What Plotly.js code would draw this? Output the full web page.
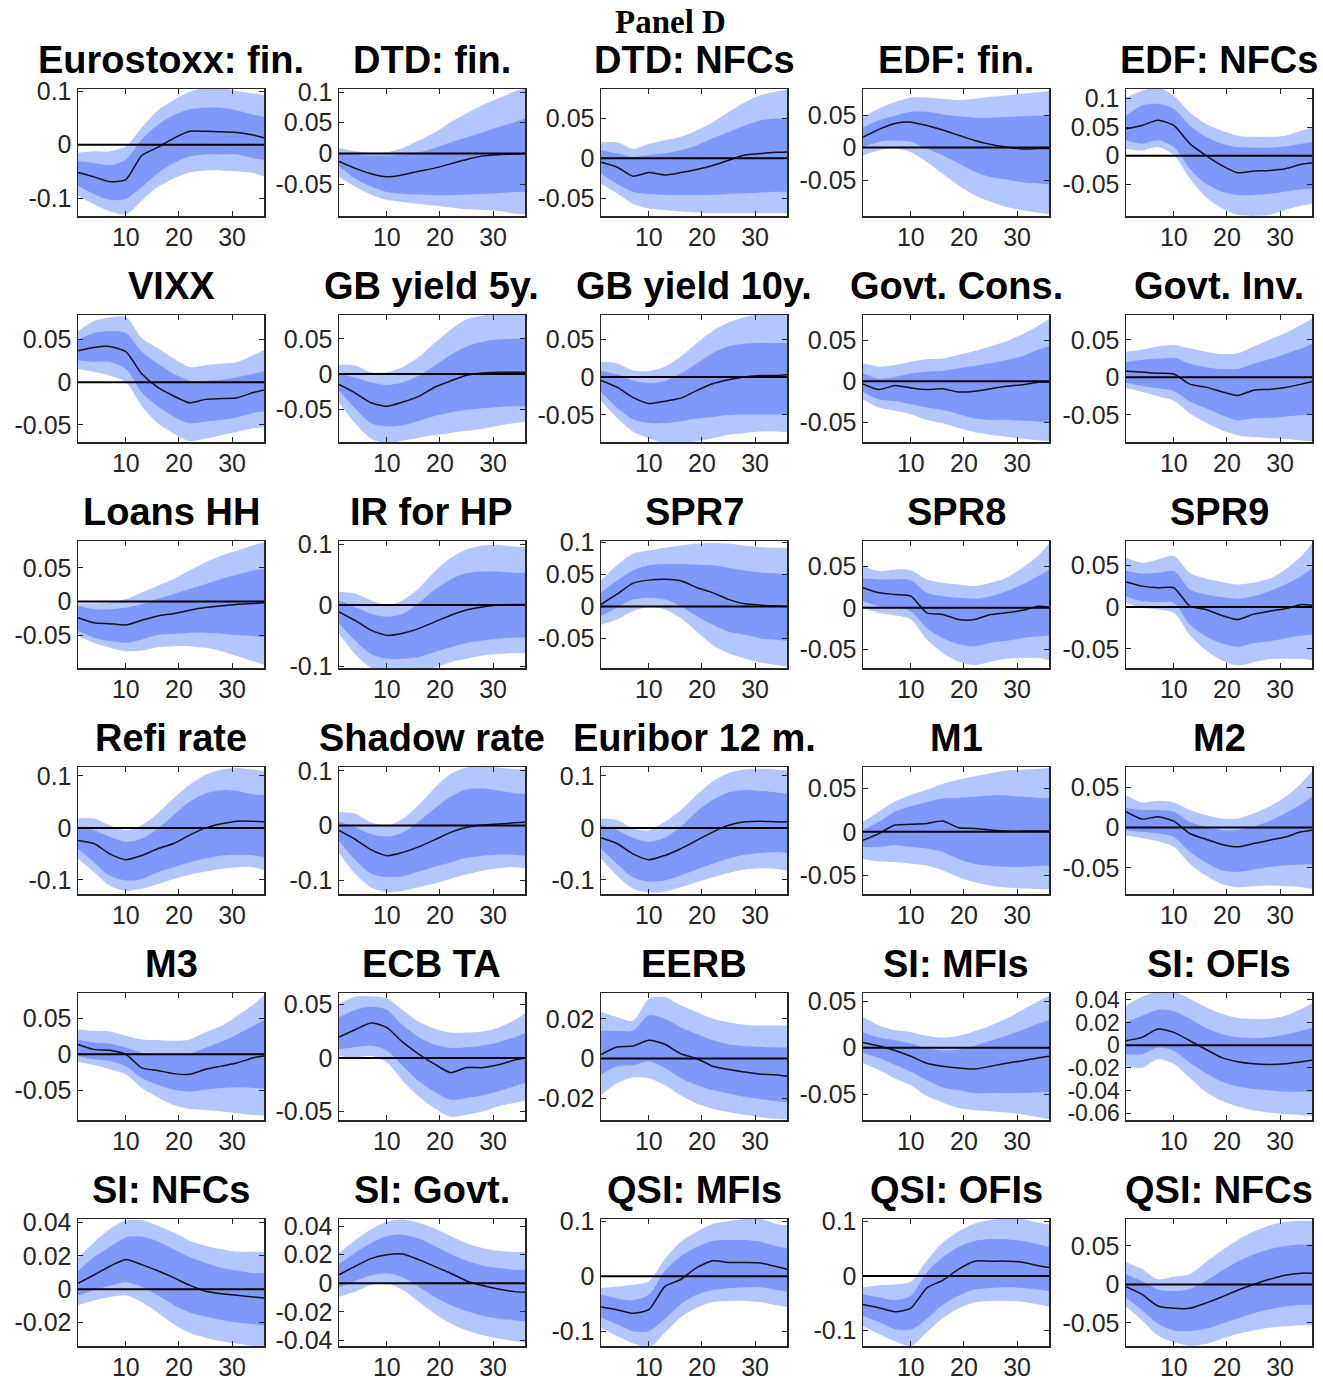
<!DOCTYPE html>
<html><head><meta charset="utf-8">
<script src="https://cdn.plot.ly/plotly-3.0.1.min.js"></script>
<style>html,body{margin:0;padding:0;background:#fff}</style>
</head><body><div id="chart" style="width:1323px;height:1379px"></div>
<script>
const horizons = [1,4,7,10,13,16,19,22,25,28,31,34,36];
const xTicks = [10,20,30];
const titles = ["Eurostoxx: fin.","DTD: fin.","DTD: NFCs","EDF: fin.","EDF: NFCs",
"VIXX","GB yield 5y.","GB yield 10y.","Govt. Cons.","Govt. Inv.",
"Loans HH","IR for HP","SPR7","SPR8","SPR9",
"Refi rate","Shadow rate","Euribor 12 m.","M1","M2",
"M3","ECB TA","EERB","SI: MFIs","SI: OFIs",
"SI: NFCs","SI: Govt.","QSI: MFIs","QSI: OFIs","QSI: NFCs"];
const yTicks = [
[-0.1,0,0.1],[-0.05,0,0.05,0.1],[-0.05,0,0.05],[-0.05,0,0.05],[-0.05,0,0.05,0.1],
[-0.05,0,0.05],[-0.05,0,0.05],[-0.05,0,0.05],[-0.05,0,0.05],[-0.05,0,0.05],
[-0.05,0,0.05],[-0.1,0,0.1],[-0.05,0,0.05,0.1],[-0.05,0,0.05],[-0.05,0,0.05],
[-0.1,0,0.1],[-0.1,0,0.1],[-0.1,0,0.1],[-0.05,0,0.05],[-0.05,0,0.05],
[-0.05,0,0.05],[-0.05,0,0.05],[-0.02,0,0.02],[-0.05,0,0.05],[-0.06,-0.04,-0.02,0,0.02,0.04],
[-0.02,0,0.02,0.04],[-0.04,-0.02,0,0.02,0.04],[-0.1,0,0.1],[-0.1,0,0.1],[-0.05,0,0.05]];
const yRanges = [
[-0.133,0.104],[-0.102,0.105],[-0.0725,0.087],[-0.105,0.09],[-0.106,0.117],
[-0.07,0.079],[-0.097,0.084],[-0.086,0.082],[-0.074,0.081],[-0.086,0.083],
[-0.099,0.09],[-0.103,0.105],[-0.096,0.102],[-0.072,0.08],[-0.073,0.079],
[-0.127,0.117],[-0.125,0.107],[-0.127,0.117],[-0.071,0.074],[-0.0825,0.075],
[-0.092,0.086],[-0.058,0.061],[-0.031,0.033],[-0.078,0.059],[-0.066,0.046],
[-0.034,0.042],[-0.044,0.045],[-0.127,0.104],[-0.128,0.104],[-0.08,0.085]];

const median = [
[-0.052,-0.060,-0.069,-0.065,-0.020,-0.005,0.012,0.025,0.025,0.024,0.023,0.018,0.013],
[-0.013,-0.024,-0.033,-0.038,-0.035,-0.029,-0.024,-0.017,-0.010,-0.004,-0.002,-0.001,0],
[-0.005,-0.011,-0.0225,-0.018,-0.021,-0.018,-0.014,-0.009,-0.0025,0.004,0.006,0.0075,0.008],
[0.016,0.028,0.037,0.039,0.034,0.027,0.019,0.011,0.005,0.001,-0.002,-0.0015,-0.0015],
[0.047,0.053,0.062,0.053,0.021,0.0006,-0.017,-0.030,-0.027,-0.026,-0.023,-0.015,-0.013],
[0.037,0.041,0.042,0.036,0.010,-0.006,-0.016,-0.024,-0.020,-0.019,-0.018,-0.012,-0.009],
[-0.015,-0.027,-0.041,-0.046,-0.040,-0.032,-0.019,-0.010,-0.002,0.0015,0.0025,0.0025,0.0025],
[-0.0045,-0.0135,-0.027,-0.035,-0.032,-0.028,-0.018,-0.009,-0.0036,0,0.002,0.002,0.003],
[-0.003,-0.010,-0.005,-0.008,-0.010,-0.009,-0.013,-0.012,-0.009,-0.006,-0.004,-0.001,-0.001],
[0.008,0.007,0.0055,0.0045,-0.009,-0.013,-0.019,-0.024,-0.017,-0.016,-0.0136,-0.009,-0.0055],
[-0.024,-0.0315,-0.033,-0.035,-0.028,-0.0215,-0.018,-0.013,-0.009,-0.0065,-0.004,-0.003,-0.002],
[-0.011,-0.025,-0.041,-0.0495,-0.046,-0.0385,-0.0275,-0.0165,-0.008,-0.003,0,0.001,0.001],
[0.003,0.019,0.036,0.041,0.0425,0.040,0.0295,0.0215,0.011,0.004,0.002,0.0005,0],
[0.024,0.018,0.016,0.014,-0.006,-0.008,-0.014,-0.014,-0.008,-0.006,-0.003,0.002,0.001],
[0.030,0.025,0.023,0.023,0.001,-0.003,-0.010,-0.015,-0.0085,-0.005,-0.002,0.003,0.002],
[-0.024,-0.030,-0.050,-0.061,-0.053,-0.040,-0.030,-0.014,0,0.008,0.013,0.013,0.012],
[-0.009,-0.025,-0.044,-0.055,-0.049,-0.039,-0.026,-0.0125,-0.003,0.001,0.003,0.005,0.006],
[-0.019,-0.030,-0.050,-0.061,-0.053,-0.040,-0.024,-0.008,0.005,0.0116,0.013,0.0116,0.0116],
[-0.0096,-0.002,0.0077,0.0085,0.0096,0.0123,0.0046,0.0038,0.002,0.0008,0.0008,0.001,0.001],
[0.0196,0.0104,0.0133,0.0079,-0.0075,-0.0146,-0.021,-0.024,-0.020,-0.0158,-0.0117,-0.0054,-0.0033],
[0.014,0.007,0.0057,0,-0.019,-0.0226,-0.027,-0.028,-0.021,-0.0165,-0.0118,-0.0047,-0.0024],
[0.0196,0.0266,0.033,0.0285,0.0149,0.0038,-0.0057,-0.0136,-0.0089,-0.0089,-0.0063,-0.0019,0],
[0.002,0.0058,0.0063,0.0092,0.0072,0.0024,0,-0.0039,-0.0056,-0.0068,-0.0079,-0.0082,-0.009],
[0.0056,0.0019,-0.003,-0.0093,-0.0167,-0.020,-0.022,-0.023,-0.020,-0.0167,-0.014,-0.011,-0.0093],
[0.0039,0.0069,0.0143,0.0113,0.0039,-0.0036,-0.011,-0.0146,-0.0164,-0.017,-0.0164,-0.0146,-0.0134],
[0.0035,0.0085,0.0137,0.0178,0.0147,0.011,0.0069,0.0024,-0.0012,-0.0027,-0.0037,-0.0047,-0.0053],
[0.0059,0.0118,0.0172,0.020,0.0205,0.0165,0.0118,0.007,0.0016,-0.0016,-0.004,-0.0059,-0.0064],
[-0.056,-0.061,-0.0675,-0.061,-0.019,-0.006,0.0156,0.028,0.025,0.025,0.024,0.0175,0.0125],
[-0.052,-0.058,-0.0656,-0.059,-0.022,-0.008,0.0125,0.027,0.027,0.027,0.025,0.0188,0.0156],
[-0.003,-0.013,-0.028,-0.031,-0.031,-0.0243,-0.0164,-0.0075,0,0.0066,0.012,0.0146,0.0146]];

const outerUpper = [
[-0.015,-0.012,-0.012,-0.003,0.032,0.064,0.083,0.099,0.106,0.106,0.1,0.096,0.093],
[0.009,0.004,0.001,0.002,0.009,0.021,0.034,0.051,0.065,0.079,0.090,0.101,0.106],
[0.020,0.020,0.012,0.018,0.0225,0.027,0.035,0.045,0.058,0.070,0.079,0.084,0.086],
[0.047,0.060,0.070,0.077,0.077,0.075,0.073,0.075,0.078,0.080,0.083,0.085,0.087],
[0.102,0.114,0.12,0.105,0.076,0.056,0.044,0.035,0.033,0.033,0.035,0.044,0.049],
[0.060,0.072,0.076,0.077,0.052,0.040,0.028,0.018,0.020,0.022,0.024,0.032,0.038],
[0.013,0.012,0.0025,0.0025,0.010,0.024,0.044,0.063,0.078,0.083,0.086,0.086,0.086],
[0.020,0.018,0.009,0.008,0.0135,0.027,0.045,0.061,0.072,0.079,0.083,0.083,0.083],
[0.022,0.018,0.020,0.024,0.027,0.028,0.0325,0.037,0.043,0.049,0.0575,0.068,0.076],
[0.034,0.037,0.041,0.043,0.0386,0.034,0.031,0.032,0.041,0.050,0.059,0.070,0.078],
[-0.003,-0.003,-0.0015,0.0035,0.0135,0.0235,0.0335,0.046,0.0585,0.0685,0.076,0.0835,0.0885],
[0.022,0.019,0.008,0,0.008,0.0275,0.055,0.077,0.091,0.0975,0.099,0.096,0.095],
[0.040,0.064,0.082,0.087,0.0915,0.095,0.098,0.099,0.098,0.095,0.0925,0.0915,0.0915],
[0.050,0.044,0.046,0.045,0.034,0.030,0.028,0.026,0.030,0.036,0.048,0.0625,0.0766],
[0.059,0.053,0.057,0.061,0.041,0.034,0.030,0.027,0.029,0.034,0.045,0.061,0.076],
[0.018,0.018,0.005,-0.0045,0.005,0.028,0.057,0.083,0.102,0.112,0.115,0.112,0.110],
[0.025,0.022,0.006,0,0.0125,0.0375,0.069,0.094,0.106,0.108,0.106,0.103,0.103],
[0.018,0.015,-0.001,-0.0045,0.0116,0.034,0.063,0.089,0.105,0.112,0.1135,0.112,0.110],
[0.0115,0.023,0.0346,0.042,0.048,0.0546,0.0596,0.0635,0.067,0.070,0.071,0.072,0.073],
[0.040,0.031,0.033,0.031,0.0217,0.0154,0.011,0.011,0.0175,0.026,0.038,0.055,0.0696],
[0.035,0.033,0.032,0.026,0.021,0.020,0.019,0.021,0.031,0.040,0.054,0.070,0.0825],
[0.051,0.0576,0.058,0.056,0.045,0.034,0.0275,0.024,0.024,0.025,0.0285,0.0354,0.042],
[0.0234,0.0209,0.019,0.030,0.031,0.0268,0.0234,0.020,0.0183,0.017,0.0166,0.0166,0.0166],
[0.033,0.024,0.019,0.0167,0.013,0.011,0.013,0.0178,0.024,0.0315,0.0407,0.050,0.056],
[0.035,0.0427,0.047,0.047,0.041,0.0337,0.0278,0.024,0.0233,0.0233,0.026,0.032,0.0367],
[0.0188,0.028,0.036,0.0412,0.0412,0.038,0.034,0.029,0.026,0.0239,0.0224,0.0224,0.0224],
[0.0212,0.030,0.0376,0.043,0.0447,0.0424,0.0384,0.033,0.028,0.0247,0.0228,0.0219,0.0219],
[-0.022,-0.019,-0.0156,-0.009,0.031,0.0625,0.081,0.095,0.100,0.104,0.104,0.095,0.0925],
[-0.0206,-0.017,-0.0156,-0.0106,0.028,0.0606,0.081,0.0956,0.102,0.105,0.104,0.097,0.094],
[0.0288,0.020,0.0066,0.0102,0.0133,0.0288,0.0442,0.0575,0.0686,0.0765,0.081,0.0827,0.0827]];

const innerUpper = [
[-0.031,-0.034,-0.038,-0.028,0.010,0.037,0.055,0.066,0.069,0.069,0.064,0.056,0.052],
[0.001,-0.002,-0.004,-0.004,-0.002,0.002,0.009,0.018,0.026,0.034,0.043,0.051,0.057],
[0.010,0.006,0.002,0.004,0.006,0.010,0.016,0.025,0.033,0.041,0.0475,0.050,0.050],
[0.031,0.042,0.049,0.055,0.055,0.051,0.048,0.046,0.046,0.047,0.048,0.049,0.049],
[0.070,0.088,0.091,0.082,0.053,0.033,0.021,0.015,0.014,0.014,0.016,0.021,0.024],
[0.050,0.058,0.060,0.058,0.036,0.022,0.010,0.002,0.002,0.003,0.006,0.010,0.013],
[0,-0.005,-0.012,-0.016,-0.012,-0.0025,0.012,0.027,0.039,0.046,0.049,0.050,0.050],
[0.008,0.0036,-0.0045,-0.008,-0.0054,0.0045,0.018,0.0315,0.0405,0.044,0.045,0.045,0.045],
[0.0096,0.0033,0.0054,0.0096,0.0117,0.013,0.016,0.019,0.022,0.026,0.031,0.039,0.043],
[0.020,0.023,0.025,0.026,0.018,0.0136,0.011,0.011,0.018,0.024,0.031,0.0386,0.0445],
[-0.0065,-0.0115,-0.0115,-0.009,-0.004,0.0035,0.011,0.0185,0.026,0.0335,0.040,0.046,0.0485],
[0.008,-0.003,-0.014,-0.019,-0.014,0.003,0.025,0.042,0.052,0.055,0.055,0.053,0.053],
[0.0215,0.040,0.056,0.064,0.066,0.066,0.065,0.064,0.060,0.056,0.053,0.0515,0.0505],
[0.035,0.034,0.034,0.033,0.018,0.014,0.012,0.011,0.014,0.020,0.028,0.038,0.046],
[0.043,0.040,0.041,0.043,0.021,0.015,0.012,0.010,0.013,0.019,0.027,0.037,0.046],
[0.002,-0.0045,-0.017,-0.027,-0.021,-0.001,0.0245,0.050,0.066,0.073,0.071,0.0645,0.063],
[0.0075,-0.003,-0.0156,-0.020,-0.0125,0.0075,0.031,0.053,0.066,0.0675,0.064,0.059,0.0575],
[0.005,-0.0045,-0.019,-0.027,-0.019,0.002,0.031,0.0535,0.068,0.073,0.071,0.068,0.066],
[0.002,0.0115,0.023,0.029,0.034,0.038,0.039,0.040,0.0415,0.0415,0.040,0.039,0.0385],
[0.024,0.0217,0.0217,0.0196,0.007,0.0008,-0.003,-0.003,0.0008,0.0079,0.0175,0.029,0.038],
[0.021,0.0165,0.015,0.0094,0.0024,0,-0.001,0.001,0.0094,0.018,0.028,0.040,0.048],
[0.038,0.045,0.048,0.045,0.0307,0.0196,0.0127,0.0095,0.0101,0.0117,0.0149,0.0196,0.0234],
[0.014,0.014,0.014,0.0217,0.020,0.0157,0.0123,0.0092,0.0072,0.0063,0.0058,0.0055,0.0055],
[0.0167,0.011,0.0081,0.0044,-0.0007,-0.003,-0.0019,0.0019,0.0074,0.013,0.019,0.026,0.0296],
[0.020,0.026,0.031,0.030,0.0233,0.0152,0.0099,0.0069,0.0063,0.0069,0.0093,0.0128,0.0152],
[0.0106,0.0192,0.0253,0.031,0.0314,0.0286,0.0239,0.0192,0.0157,0.0127,0.011,0.0096,0.0096],
[0.0134,0.0212,0.028,0.033,0.034,0.0313,0.0259,0.0205,0.0158,0.0125,0.0106,0.0094,0.0094],
[-0.034,-0.0406,-0.044,-0.034,0.0094,0.036,0.053,0.064,0.0656,0.0656,0.0625,0.055,0.051],
[-0.034,-0.039,-0.044,-0.036,0.006,0.034,0.053,0.064,0.067,0.067,0.064,0.058,0.053],
[0.0133,0.0044,-0.0066,-0.0088,-0.0058,0.0044,0.0177,0.0296,0.0385,0.0456,0.050,0.0518,0.0518]];

const innerLower = [
[-0.076,-0.092,-0.103,-0.101,-0.079,-0.053,-0.034,-0.022,-0.018,-0.018,-0.018,-0.025,-0.028],
[-0.021,-0.041,-0.054,-0.063,-0.066,-0.067,-0.068,-0.068,-0.067,-0.066,-0.065,-0.063,-0.063],
[-0.019,-0.032,-0.042,-0.045,-0.046,-0.046,-0.046,-0.046,-0.045,-0.044,-0.043,-0.042,-0.042],
[0.001,0.009,0.011,0.009,-0.0015,-0.012,-0.024,-0.037,-0.045,-0.049,-0.053,-0.055,-0.056],
[0.027,0.021,0.027,0.015,-0.023,-0.049,-0.063,-0.069,-0.069,-0.067,-0.063,-0.059,-0.058],
[0.026,0.024,0.024,0.016,-0.012,-0.028,-0.040,-0.048,-0.046,-0.044,-0.041,-0.036,-0.034],
[-0.024,-0.049,-0.070,-0.075,-0.073,-0.067,-0.060,-0.055,-0.051,-0.049,-0.047,-0.046,-0.046],
[-0.020,-0.0405,-0.056,-0.061,-0.061,-0.0585,-0.055,-0.053,-0.050,-0.0495,-0.0495,-0.0495,-0.0495],
[-0.013,-0.022,-0.024,-0.028,-0.032,-0.035,-0.040,-0.045,-0.047,-0.047,-0.048,-0.049,-0.050],
[-0.007,-0.011,-0.0145,-0.018,-0.032,-0.041,-0.050,-0.057,-0.0545,-0.054,-0.052,-0.050,-0.050],
[-0.044,-0.054,-0.059,-0.0615,-0.0565,-0.050,-0.048,-0.0465,-0.0465,-0.048,-0.050,-0.0515,-0.053],
[-0.030,-0.058,-0.080,-0.088,-0.088,-0.085,-0.077,-0.069,-0.062,-0.058,-0.055,-0.053,-0.053],
[-0.015,-0.002,0.011,0.0137,0.011,0.0005,-0.015,-0.0285,-0.039,-0.044,-0.0495,-0.052,-0.0535],
[0.008,0.002,0,-0.004,-0.024,-0.036,-0.0435,-0.046,-0.042,-0.0395,-0.036,-0.034,-0.033],
[0.013,0.007,0.006,0.005,-0.021,-0.035,-0.0435,-0.0476,-0.0435,-0.041,-0.0375,-0.034,-0.033],
[-0.040,-0.066,-0.092,-0.101,-0.098,-0.085,-0.0755,-0.066,-0.059,-0.053,-0.0516,-0.053,-0.056],
[-0.028,-0.062,-0.0875,-0.094,-0.0925,-0.084,-0.075,-0.0675,-0.059,-0.055,-0.053,-0.053,-0.055],
[-0.040,-0.069,-0.095,-0.103,-0.101,-0.0915,-0.080,-0.069,-0.059,-0.0516,-0.048,-0.0465,-0.048],
[-0.0173,-0.0173,-0.0154,-0.0173,-0.019,-0.023,-0.031,-0.0365,-0.039,-0.040,-0.040,-0.039,-0.0385],
[-0.003,-0.0054,-0.0075,-0.0117,-0.030,-0.043,-0.053,-0.055,-0.052,-0.049,-0.047,-0.046,-0.046],
[-0.0024,-0.007,-0.0094,-0.0165,-0.033,-0.0425,-0.0495,-0.052,-0.0495,-0.047,-0.046,-0.047,-0.048],
[0.0085,0.0101,0.0117,0.007,-0.0073,-0.0215,-0.0316,-0.039,-0.0373,-0.0348,-0.031,-0.0263,-0.023],
[-0.0082,-0.0039,-0.0034,-0.0014,-0.0048,-0.0099,-0.0133,-0.0159,-0.0176,-0.0193,-0.0205,-0.0215,-0.0219],
[-0.0056,-0.011,-0.0185,-0.026,-0.035,-0.0426,-0.046,-0.049,-0.049,-0.049,-0.049,-0.048,-0.048],
[-0.008,-0.008,-0.0021,-0.005,-0.0155,-0.0245,-0.032,-0.0364,-0.0385,-0.040,-0.041,-0.041,-0.041],
[-0.0037,-0.0006,0.002,0.0041,0.0014,-0.0037,-0.0094,-0.0139,-0.0163,-0.0184,-0.020,-0.021,-0.0216],
[-0.003,0.0016,0.0054,0.007,0.004,-0.0024,-0.0094,-0.0153,-0.0195,-0.0228,-0.0247,-0.0259,-0.0266],
[-0.075,-0.0875,-0.100,-0.100,-0.078,-0.051,-0.034,-0.025,-0.022,-0.020,-0.020,-0.025,-0.028],
[-0.073,-0.084,-0.097,-0.098,-0.078,-0.053,-0.036,-0.025,-0.022,-0.0206,-0.022,-0.025,-0.028],
[-0.0177,-0.0332,-0.051,-0.0597,-0.0606,-0.0575,-0.051,-0.0442,-0.0376,-0.0323,-0.0288,-0.0265,-0.0265]];

const outerLower = [
[-0.095,-0.111,-0.124,-0.130,-0.104,-0.079,-0.063,-0.052,-0.048,-0.048,-0.050,-0.053,-0.059],
[-0.038,-0.054,-0.067,-0.076,-0.079,-0.082,-0.085,-0.088,-0.091,-0.092,-0.094,-0.098,-0.099],
[-0.032,-0.044,-0.057,-0.063,-0.065,-0.067,-0.068,-0.069,-0.069,-0.069,-0.069,-0.069,-0.069],
[-0.012,-0.004,-0.0015,-0.007,-0.022,-0.040,-0.058,-0.073,-0.083,-0.091,-0.096,-0.100,-0.102],
[0.012,0.009,0.015,0.0006,-0.040,-0.072,-0.092,-0.104,-0.106,-0.104,-0.095,-0.088,-0.085],
[0.016,0.012,0.008,0,-0.028,-0.048,-0.060,-0.069,-0.066,-0.062,-0.058,-0.054,-0.052],
[-0.041,-0.070,-0.092,-0.099,-0.095,-0.091,-0.087,-0.084,-0.081,-0.078,-0.074,-0.070,-0.068],
[-0.0315,-0.054,-0.072,-0.081,-0.088,-0.088,-0.085,-0.081,-0.0765,-0.074,-0.072,-0.072,-0.073],
[-0.022,-0.032,-0.036,-0.040,-0.047,-0.051,-0.057,-0.062,-0.065,-0.0675,-0.070,-0.072,-0.073],
[-0.0145,-0.019,-0.025,-0.031,-0.048,-0.060,-0.070,-0.077,-0.0795,-0.081,-0.082,-0.084,-0.085],
[-0.0515,-0.0615,-0.069,-0.074,-0.073,-0.068,-0.0665,-0.0665,-0.069,-0.074,-0.0815,-0.089,-0.094],
[-0.047,-0.080,-0.102,-0.106,-0.106,-0.105,-0.102,-0.0935,-0.088,-0.0825,-0.080,-0.079,-0.079],
[-0.0285,-0.0205,-0.0075,-0.001,-0.0047,-0.018,-0.039,-0.060,-0.073,-0.081,-0.0875,-0.0915,-0.094],
[0,-0.006,-0.009,-0.014,-0.038,-0.054,-0.0645,-0.0685,-0.0645,-0.061,-0.060,-0.060,-0.0625],
[0.005,-0.001,-0.003,-0.007,-0.0335,-0.0516,-0.064,-0.070,-0.066,-0.0625,-0.062,-0.062,-0.064],
[-0.059,-0.085,-0.111,-0.121,-0.117,-0.108,-0.098,-0.090,-0.084,-0.079,-0.0755,-0.0755,-0.082],
[-0.050,-0.0875,-0.1125,-0.122,-0.119,-0.1125,-0.106,-0.097,-0.089,-0.0825,-0.078,-0.076,-0.078],
[-0.059,-0.0915,-0.117,-0.124,-0.1225,-0.114,-0.1045,-0.095,-0.0865,-0.080,-0.0775,-0.079,-0.082],
[-0.031,-0.034,-0.0346,-0.0365,-0.0385,-0.044,-0.052,-0.0577,-0.0615,-0.0635,-0.0646,-0.0654,-0.066],
[-0.0104,-0.0129,-0.017,-0.024,-0.045,-0.0596,-0.070,-0.074,-0.073,-0.072,-0.073,-0.074,-0.076],
[-0.0104,-0.015,-0.021,-0.028,-0.047,-0.060,-0.071,-0.0764,-0.078,-0.080,-0.0825,-0.085,-0.086],
[0.002,0.0006,0.002,-0.004,-0.0215,-0.036,-0.047,-0.055,-0.053,-0.050,-0.045,-0.042,-0.040],
[-0.0185,-0.0125,-0.0096,-0.0099,-0.0133,-0.0185,-0.0227,-0.0253,-0.027,-0.0284,-0.0296,-0.0304,-0.0308],
[-0.0167,-0.024,-0.0333,-0.0407,-0.052,-0.059,-0.065,-0.0674,-0.0685,-0.070,-0.072,-0.075,-0.077],
[-0.0185,-0.020,-0.0125,-0.0164,-0.029,-0.041,-0.049,-0.054,-0.0573,-0.0594,-0.061,-0.0618,-0.0624],
[-0.0094,-0.0067,-0.0047,-0.0037,-0.0078,-0.0139,-0.021,-0.0261,-0.029,-0.0312,-0.0327,-0.034,-0.0343],
[-0.0094,-0.0059,-0.0012,0,-0.0047,-0.013,-0.0212,-0.0282,-0.033,-0.0365,-0.0388,-0.0407,-0.0416],
[-0.094,-0.109,-0.122,-0.130,-0.103,-0.075,-0.0575,-0.047,-0.045,-0.045,-0.047,-0.053,-0.056],
[-0.092,-0.106,-0.119,-0.128,-0.103,-0.077,-0.059,-0.048,-0.0456,-0.0456,-0.047,-0.052,-0.056],
[-0.0288,-0.0465,-0.0664,-0.0752,-0.0796,-0.0774,-0.0708,-0.0642,-0.0597,-0.0562,-0.0544,-0.053,-0.053]];

// ---------- layout constants ----------
const W = 1323, H = 1379;
const colLeft = [78, 339, 601, 863, 1126];
const boxW = 186;
const rowTop = [89, 315, 541, 767, 993, 1219];
const boxH = 127;
const LIGHT = 'rgb(178,199,255)';
const DARK = 'rgb(126,152,252)';
const AXC = '#262626';
const FONT = 'Liberation Sans, Arial, Helvetica, sans-serif';

const traces = [];
const layout = {
  width: W, height: H,
  margin: {l: 0, r: 0, t: 0, b: 0},
  paper_bgcolor: '#ffffff', plot_bgcolor: '#ffffff',
  showlegend: false,
  shapes: [], annotations: []
};

titles.forEach((title, i) => {
  const r = Math.floor(i / 5), c = i % 5;
  const n = i + 1;
  const xa = 'x' + n, ya = 'y' + n;
  const xk = 'xaxis' + (n === 1 ? '' : n), yk = 'yaxis' + (n === 1 ? '' : n);
  const L = colLeft[c], T = rowTop[r];
  const ySize = yTicks[i].length > 5 ? 23 : 25;
  layout[xk] = {
    domain: [L / W, (L + boxW) / W], anchor: ya, range: [1, 36],
    tickvals: xTicks, ticktext: xTicks.map(String),
    showgrid: false, zeroline: false, showline: true, mirror: 'ticks',
    linecolor: AXC, linewidth: 1.5, ticks: 'inside', ticklen: 5, tickwidth: 1, tickcolor: AXC,
    ticklabelstandoff: -2,
    tickfont: {family: FONT, size: 25, color: AXC}, fixedrange: true
  };
  layout[yk] = {
    domain: [1 - (T + boxH) / H, 1 - T / H], anchor: xa, range: yRanges[i],
    tickvals: yTicks[i], ticktext: yTicks[i].map(String),
    showgrid: false, zeroline: false, showline: true, mirror: 'ticks',
    linecolor: AXC, linewidth: 1.5, ticks: 'inside', ticklen: 5, tickwidth: 1, tickcolor: AXC,
    tickfont: {family: FONT, size: ySize, color: AXC}, fixedrange: true
  };
  const base = {x: horizons, xaxis: xa, yaxis: ya, mode: 'lines', hoverinfo: 'skip'};
  traces.push(Object.assign({}, base, {y: outerLower[i], line: {width: 0, shape: 'spline', smoothing: 0.8}, fill: 'none'}));
  traces.push(Object.assign({}, base, {y: outerUpper[i], line: {width: 0, shape: 'spline', smoothing: 0.8}, fill: 'tonexty', fillcolor: LIGHT}));
  traces.push(Object.assign({}, base, {y: innerLower[i], line: {width: 0, shape: 'spline', smoothing: 0.8}, fill: 'none'}));
  traces.push(Object.assign({}, base, {y: innerUpper[i], line: {width: 0, shape: 'spline', smoothing: 0.8}, fill: 'tonexty', fillcolor: DARK}));
  traces.push(Object.assign({}, base, {y: median[i], line: {width: 1.5, color: '#111111', shape: 'spline', smoothing: 0.6}}));
  layout.shapes.push({type: 'line', xref: xa + ' domain', yref: ya, x0: 0, x1: 1, y0: 0, y1: 0,
    line: {color: '#000000', width: 2}, layer: 'above'});
  layout.annotations.push({text: '<b>' + title + '</b>', xref: 'paper', yref: 'paper',
    x: (L + boxW / 2) / W, y: 1 - (T - 6) / H, xanchor: 'center', yanchor: 'bottom',
    showarrow: false, font: {family: FONT, size: 38, color: '#000000'}});
});

layout.annotations.push({text: '<b>Panel D</b>', xref: 'paper', yref: 'paper',
  x: 670 / W, y: 1 - 22 / H, xanchor: 'center', yanchor: 'middle', showarrow: false,
  font: {family: 'Liberation Serif, Times New Roman, serif', size: 33, color: '#000000'}});

Plotly.newPlot('chart', traces, layout, {displayModeBar: false, staticPlot: true});
</script>
</body></html>
